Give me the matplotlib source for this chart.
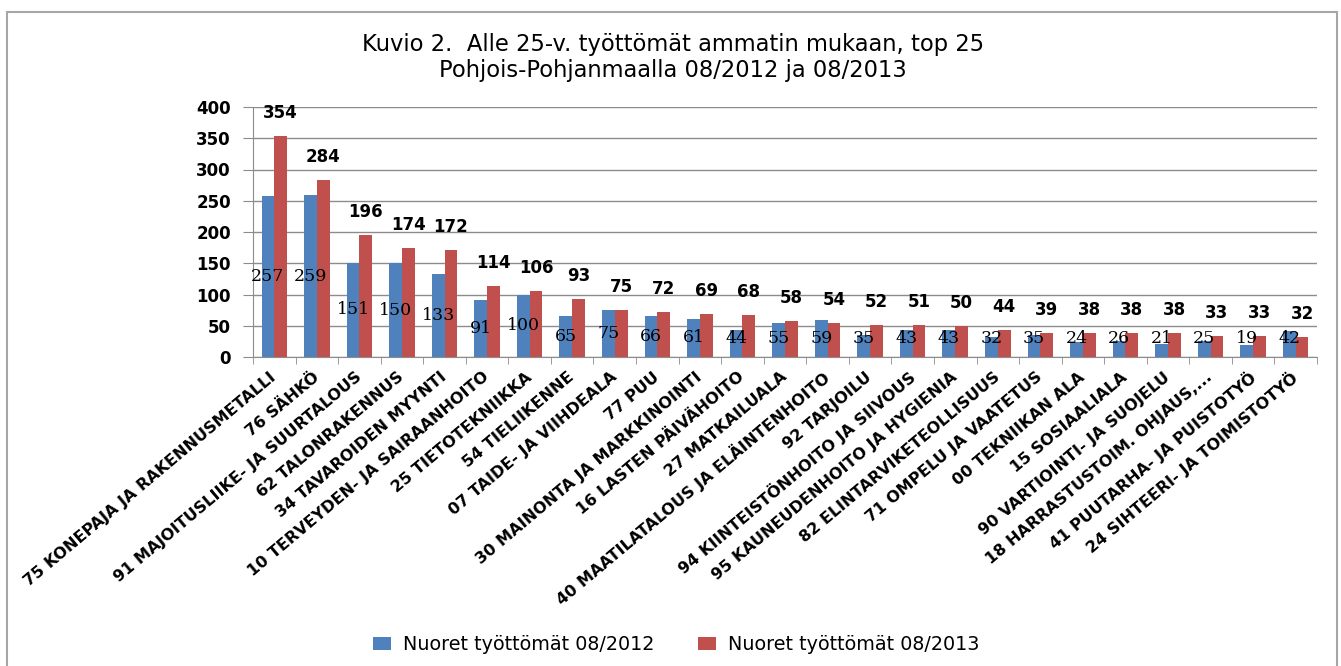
import matplotlib
matplotlib.use("Agg")
import matplotlib.pyplot as plt
from matplotlib.patches import Rectangle
import numpy as np

plt.rcParams["font.family"] = ["DejaVu Sans"]

# ammattiryhmät (top 25)
categories = [
    "75 KONEPAJA JA RAKENNUSMETALLI",
    "76 SÄHKÖ",
    "91 MAJOITUSLIIKE- JA SUURTALOUS",
    "62 TALONRAKENNUS",
    "34 TAVAROIDEN MYYNTI",
    "10 TERVEYDEN- JA SAIRAANHOITO",
    "25 TIETOTEKNIIKKA",
    "54 TIELIIKENNE",
    "07 TAIDE- JA VIIHDEALA",
    "77 PUU",
    "30 MAINONTA JA MARKKINOINTI",
    "16 LASTEN PÄIVÄHOITO",
    "27 MATKAILUALA",
    "40 MAATILATALOUS JA ELÄINTENHOITO",
    "92 TARJOILU",
    "94 KIINTEISTÖNHOITO JA SIIVOUS",
    "95 KAUNEUDENHOITO JA HYGIENIA",
    "82 ELINTARVIKETEOLLISUUS",
    "71 OMPELU JA VAATETUS",
    "00 TEKNIIKAN ALA",
    "15 SOSIAALIALA",
    "90 VARTIOINTI- JA SUOJELU",
    "18 HARRASTUSTOIM. OHJAUS,...",
    "41 PUUTARHA- JA PUISTOTYÖ",
    "24 SIHTEERI- JA TOIMISTOTYÖ",
]
values_2012 = [257, 259, 151, 150, 133, 91, 100, 65, 75, 66, 61, 44, 55, 59,
               35, 43, 43, 32, 35, 24, 26, 21, 25, 19, 42]
values_2013 = [354, 284, 196, 174, 172, 114, 106, 93, 75, 72, 69, 68, 58, 54,
               52, 51, 50, 44, 39, 38, 38, 38, 33, 33, 32]
series_names = ["Nuoret työttömät 08/2012", "Nuoret työttömät 08/2013"]
yticks = [0, 50, 100, 150, 200, 250, 300, 350, 400]

BLUE = "#4F81BD"
RED = "#C0504D"
GREY = "#8c8c8c"

W, H = 1341, 666
fig = plt.figure(figsize=(W / 100, H / 100), dpi=100)
ax = fig.add_axes([253 / W, 1 - 357 / H, (1317 - 253) / W, (357 - 107) / H])

# kuvan kehys
fig.patches.append(Rectangle((7 / W, -0.02), (1337 - 7) / W, 1 - 12 / H + 0.02,
                             transform=fig.transFigure, fill=False,
                             edgecolor="#a6a6a6", linewidth=1.5))

x = np.arange(len(categories))
bw = 0.3
b1 = ax.bar(x - bw / 2, values_2012, bw, color=BLUE, label=series_names[0], zorder=2)
b2 = ax.bar(x + bw / 2, values_2013, bw, color=RED, label=series_names[1], zorder=2)

# 2012 arvot palkin keskelle (matalissa palkeissa hieman ylemmäs)
for rect, v in zip(b1, values_2012):
    ax.text(rect.get_x() + rect.get_width() / 2, max(v / 2, 30), str(v),
            ha="center", va="center", fontsize=12.5,
            family=["DejaVu Serif"], zorder=3)
# 2013 arvot palkin yläpuolelle
for rect, v in zip(b2, values_2013):
    ax.annotate(str(v), (rect.get_x() + rect.get_width() / 2, v),
                xytext=(0, 10), textcoords="offset points",
                ha="center", va="bottom", fontsize=12, fontweight="bold", zorder=3)

ax.set_xlim(-0.5, len(categories) - 0.5)
ax.set_ylim(0, 400)
ax.set_yticks(yticks)
ax.set_yticklabels([str(t) for t in yticks], fontsize=12, fontweight="bold")
ax.yaxis.grid(True, color=GREY, linewidth=1.0, zorder=0)
ax.set_axisbelow(True)

ax.set_xticks(x)
ax.set_xticklabels(categories, rotation=40, ha="right", va="center",
                   rotation_mode="anchor", fontsize=11.5, fontweight="bold")
ax.set_xticks(np.arange(len(categories) + 1) - 0.5, minor=True)
ax.tick_params(axis="x", which="major", length=0, pad=13)
ax.tick_params(axis="x", which="minor", length=5, color=GREY)
ax.tick_params(axis="y", length=7, color=GREY, pad=9)

for s in ["top", "right"]:
    ax.spines[s].set_visible(False)
for s in ["left", "bottom"]:
    ax.spines[s].set_color(GREY)

fig.text(673 / W, 1 - 45 / H, "Kuvio 2.  Alle 25-v. työttömät ammatin mukaan, top 25",
         ha="center", va="center", fontsize=16.3)
fig.text(673 / W, 1 - 71 / H, "Pohjois-Pohjanmaalla 08/2012 ja 08/2013",
         ha="center", va="center", fontsize=16.3)

fig.legend(handles=[b1, b2], labels=series_names, loc="center",
           bbox_to_anchor=(676 / W, 1 - 645 / H), ncol=2, frameon=False,
           fontsize=13.8, handlelength=0.95, handleheight=0.65, columnspacing=2.3,
           handletextpad=0.6)

fig.savefig("out.png", dpi=100)
